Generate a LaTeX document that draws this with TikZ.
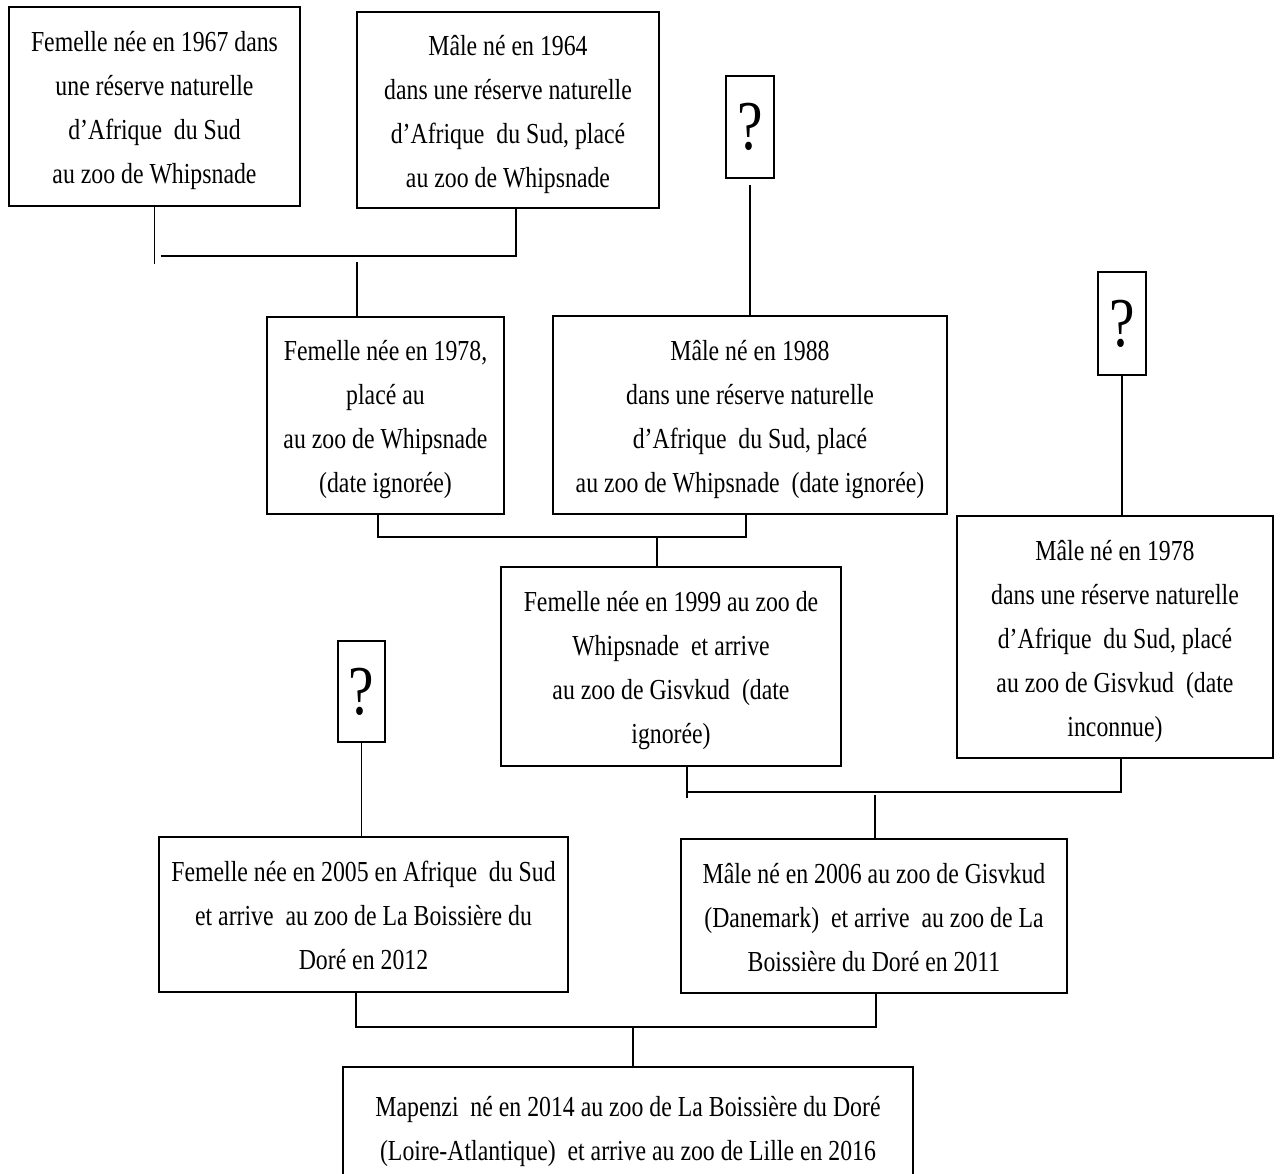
\documentclass[tikz,border=0pt]{standalone}
\usepackage{fontspec}
\setmainfont{Liberation Serif}[FakeStretch=0.82]
\usetikzlibrary{calc}
\newcommand{\bxt}[1]{\rule{0pt}{29pt}#1\rule[-7pt]{0pt}{7pt}}
\tikzset{
  box/.style={draw=black, line width=1.5pt, inner sep=0pt, align=center,
    font=\fontsize{29}{44}\selectfont},
  qbox/.style={draw=black, line width=1.5pt, inner sep=0pt,
    font=\fontsize{70}{70}\selectfont},
  link/.style={draw=black, line width=1.3pt}
}
\begin{document}
\begin{tikzpicture}[x=1pt,y=-1pt]
\useasboundingbox (0,0) rectangle (1281,1173);
\fill[white] (0,0) rectangle (1281,1173);

\node[box, minimum width=291pt, minimum height=199pt] (A) at (154.5,106.5)
  {\bxt{Femelle née en 1967 dans\\une réserve naturelle\\d’Afrique\ \ du Sud\\au zoo de Whipsnade}};
\node[box, minimum width=302pt, minimum height=196pt] (B) at (508,110)
  {\bxt{Mâle né en 1964\\dans une réserve naturelle\\d’Afrique\ \ du Sud, placé\\au zoo de Whipsnade}};
\node[qbox, minimum width=48pt, minimum height=102pt] (Q1) at (750,127) {\raisebox{-2.5pt}{?}};
\node[box, minimum width=237pt, minimum height=197pt] (C) at (385.5,415.5)
  {\bxt{Femelle née en 1978,\\placé au\\au zoo de Whipsnade\\(date ignorée)}};
\node[box, minimum width=394pt, minimum height=198pt] (D) at (750,415)
  {\bxt{Mâle né en 1988\\dans une réserve naturelle\\d’Afrique\ \ du Sud, placé\\au zoo de Whipsnade\ \ (date ignorée)}};
\node[qbox, minimum width=48pt, minimum height=103pt] (Q2) at (1122,323.5) {\raisebox{-2.5pt}{?}};
\node[box, minimum width=316pt, minimum height=242pt] (F) at (1115,637)
  {\bxt{Mâle né en 1978\\dans une réserve naturelle\\d’Afrique\ \ du Sud, placé\\au zoo de Gisvkud\ \ (date\\inconnue)}};
\node[box, minimum width=340pt, minimum height=199pt] (E) at (671,666.5)
  {\bxt{Femelle née en 1999 au zoo de\\Whipsnade\ \ et arrive\\au zoo de Gisvkud\ \ (date\\ignorée)}};
\node[qbox, minimum width=47pt, minimum height=101pt] (Q3) at (361.5,691.5) {\raisebox{-2.5pt}{?}};
\node[box, minimum width=409pt, minimum height=155pt] (G) at (363.5,914.5)
  {\bxt{Femelle née en 2005 en Afrique\ \ du Sud\\et arrive\ \ au zoo de La Boissière du\\Doré en 2012}};
\node[box, minimum width=386pt, minimum height=154pt] (H) at (874,916)
  {\bxt{Mâle né en 2006 au zoo de Gisvkud\\(Danemark)\ \ et arrive\ \ au zoo de La\\Boissière du Doré en 2011}};
\node[box, minimum width=570pt, minimum height=121pt] (I) at (628,1127.5)
  {\bxt{Mapenzi\ \ né en 2014 au zoo de La Boissière du Doré\\(Loire-Atlantique)\ \ et arrive au zoo de Lille en 2016}};

% A + B -> C
\coordinate (jAB) at (357,256);
\draw[link] (A.south) -- ++(0,57);
\draw[link] ([xshift=6pt]A.south |- jAB) -- (jAB) -| ([xshift=8pt]B.south);
\draw[link] ([yshift=-6pt]jAB) -- (jAB |- C.north);

% ? -> D
\draw[link] ([yshift=-6pt]Q1.south) -- (Q1.south |- D.north);

% C + D -> E
\coordinate (jCD) at (657,537);
\draw[link] ([xshift=-7.5pt]C.south) |- (jCD) -| ([xshift=-4pt]D.south);
\draw[link] (jCD) -- (jCD |- E.north);

% ? -> F
\draw[link] (Q2.south) -- (Q2.south |- F.north);

% E + F -> H
\coordinate (jEF) at (875,792);
\draw[link] ([xshift=16pt]E.south) -- ++(0,31);
\draw[link] ([xshift=16pt]E.south |- jEF) -- (jEF) -| ([xshift=6pt]F.south);
\draw[link] ([yshift=-3pt]jEF) -- (jEF |- H.north);

% ? -> G
\draw[link] (Q3.south) -- (Q3.south |- G.north);

% G + H -> I
\coordinate (jGH) at (633,1027);
\draw[link] ([xshift=-7.5pt]G.south) |- (jGH) -| ([xshift=2pt]H.south);
\draw[link] (jGH) -- (jGH |- I.north);
\end{tikzpicture}
\end{document}
